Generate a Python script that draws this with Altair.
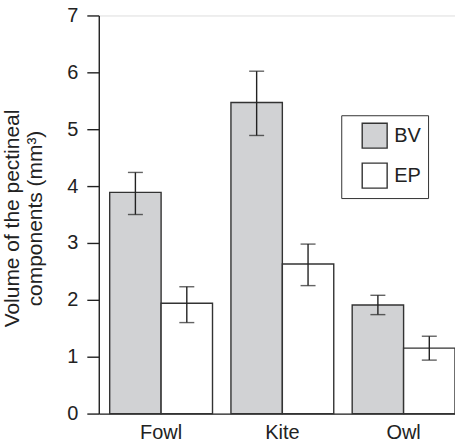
import altair as alt
import pandas as pd

birds = ["Fowl", "Kite", "Owl"]
components = ["BV", "EP"]
bv_mean = [3.89, 5.47, 1.91]
bv_low = [3.50, 4.89, 1.74]
bv_high = [4.24, 6.02, 2.08]
ep_mean = [1.94, 2.63, 1.15]
ep_low = [1.60, 2.25, 0.94]
ep_high = [2.23, 2.98, 1.36]

rows = []
for i, b in enumerate(birds):
    rows.append({"bird": b, "comp": "BV", "mean": bv_mean[i], "low": bv_low[i], "high": bv_high[i]})
    rows.append({"bird": b, "comp": "EP", "mean": ep_mean[i], "low": ep_low[i], "high": ep_high[i]})
df = pd.DataFrame(rows)

FONT = "Liberation Sans"
INK = "#222222"

x_enc = alt.X(
    "bird:N",
    sort=birds,
    scale=alt.Scale(paddingInner=0.152, paddingOuter=0.045, align=1),
    axis=alt.Axis(
        title=None, labelAngle=0, ticks=False, labelPadding=9,
        labelFontSize=20, labelFont=FONT, labelColor=INK,
        domainColor=INK, domainWidth=1.4,
    ),
)
xoff = alt.XOffset("comp:N", sort=components)
y_scale = alt.Scale(domain=[0, 7], nice=False)

bars = alt.Chart(df).mark_bar(stroke="#333333", strokeWidth=1.4).encode(
    x=x_enc,
    xOffset=xoff,
    y=alt.Y(
        "mean:Q",
        scale=y_scale,
        axis=alt.Axis(
            title=["Volume of the pectineal", "components (mm³)"],
            values=[0, 1, 2, 3, 4, 5, 6, 7], format="d", grid=False,
            tickSize=12, tickColor=INK, tickWidth=1.4,
            domainColor=INK, domainWidth=1.4,
            labelFontSize=20, labelFont=FONT, labelColor=INK, labelPadding=9,
            titleFontSize=21, titleFont=FONT, titleFontWeight="normal", titleColor=INK,
            titleAngle=-90, titleBaseline="alphabetic", titleAlign="center",
            titleX=-80, titleY=203, titleLineHeight=23,
        ),
    ),
    fill=alt.Fill(
        "comp:N",
        sort=components,
        scale=alt.Scale(domain=components, range=["#d1d2d4", "#ffffff"]),
        legend=alt.Legend(
            title=None, orient="none", legendX=243, legendY=100,
            symbolType="square", symbolSize=625, symbolStrokeColor="#333333",
            symbolStrokeWidth=1.4, symbolOffset=13,
            labelFontSize=20, labelFont=FONT, labelColor=INK, labelOffset=6,
            rowPadding=9, padding=7, strokeColor="#333333", fillColor="#ffffff",
        ),
    ),
)

rules = alt.Chart(df).mark_rule(color=INK, strokeWidth=1.4).encode(
    x=alt.X("bird:N", sort=birds), xOffset=xoff,
    y=alt.Y("low:Q", scale=y_scale), y2="high:Q",
)
caps_hi = alt.Chart(df).mark_tick(color=INK, thickness=1.4, size=15, orient="horizontal").encode(
    x=alt.X("bird:N", sort=birds), xOffset=xoff, y=alt.Y("high:Q", scale=y_scale),
)
caps_lo = alt.Chart(df).mark_tick(color=INK, thickness=1.4, size=15, orient="horizontal").encode(
    x=alt.X("bird:N", sort=birds), xOffset=xoff, y=alt.Y("low:Q", scale=y_scale),
)

chart = alt.layer(bars, rules, caps_hi, caps_lo).properties(
    width=357, height=399,
    autosize=alt.AutoSizeParams(type="none"),
    padding={"left": 99, "top": 15, "right": 0, "bottom": 33},
).configure_view(stroke=None).configure(background="white")

chart.save("out.html", embed_options={"renderer": "svg", "actions": False})
